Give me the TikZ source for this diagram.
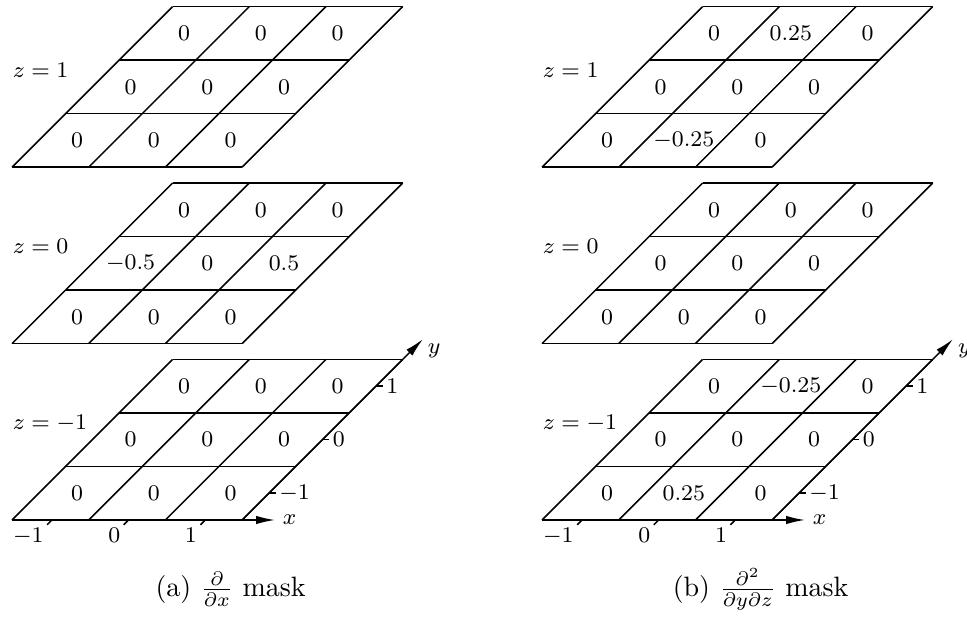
\documentclass[tikz,border=0pt]{standalone}
\usepackage{tikz}
\usetikzlibrary{arrows.meta}
\usepackage{amsmath,amssymb}

% one 3x3 layer: #1 name, #2 height, #3 z value, #4 values (bottom row first)
\newcommand{\masklayer}[4]{%
  \foreach \rr in {0,...,3} \draw (0,\rr,#2) -- (3,\rr,#2);
  \foreach \cc in {0,...,3} \draw (\cc,0,#2) -- (\cc,3,#2);
  \foreach \v [count=\n from 0] in {#4} {
    \pgfmathtruncatemacro{\ci}{mod(\n,3)}
    \pgfmathtruncatemacro{\cj}{floor(\n/3)}
    \node[cell] (#1-\ci\cj) at (\ci+0.5,\cj+0.5,#2) {$\v$};
  }
  \node[zlab] (#1-lab) at (0,0,#2+1.265) {$z=#3$};
}

% x and y axes under the lowest layer
\newcommand{\maskaxes}[1]{%
  \coordinate (#1-o)  at (0,0,0);
  \coordinate (#1-xe) at (3.43,0,0);
  \coordinate (#1-yb) at (3,0,0);
  \coordinate (#1-ye) at (3,3.38,0);
  \draw[axis] (#1-o) -- (#1-xe) node[axlab, anchor=west, inner sep=2.5pt] (#1-x) {$x$};
  \draw[axis] (#1-yb) -- (#1-ye) node[axlab, anchor=north west] (#1-y) {$y$};
  \foreach \t [count=\n from 0] in {-1,0,1} {
    \draw (\n+0.52,0,0) -- (\n+0.52,-0.09,0) node[ticklab, anchor=north east] (#1-xt\n) {$\t$};
    \draw (3,\n+0.5,0) -- (3.09,\n+0.5,0) node[ticklab, anchor=west] (#1-yt\n) {$\t$};
  }
}

\begin{document}
\begin{tikzpicture}[x={(0.963cm,0cm)}, y={(0.672cm,0.672cm)}, z={(0cm,0.963cm)},
  line width=0.55pt,
  cell/.style={font=\footnotesize, inner sep=1pt},
  zlab/.style={font=\footnotesize, anchor=west, inner sep=0pt},
  ticklab/.style={font=\footnotesize, inner sep=1pt},
  axlab/.style={font=\footnotesize, inner sep=1.5pt},
  axis/.style={-{Latex[length=6.8pt,width=3pt]}},
  subcap/.style={font=\normalsize, anchor=base}]
  \useasboundingbox (-0.1507cm,-1.218cm) rectangle (11.991cm,6.529cm);

  % (a) first derivative in x
  \masklayer{a2}{4.6}{1}{0,0,0,0,0,0,0,0,0}
  \masklayer{a1}{2.3}{0}{0,0,0,-0.5,0,0.5,0,0,0}
  \masklayer{a0}{0}{-1}{0,0,0,0,0,0,0,0,0}
  \maskaxes{a}
  \node[subcap] (a-cap) at (2.85,0,-1.0) {(a) $\frac{\partial}{\partial x}$ mask};

  % (b) mixed derivative in y and z
  \begin{scope}[xshift=6.655cm]
    \masklayer{b2}{4.6}{1}{0,-0.25,0,0,0,0,0,0.25,0}
    \masklayer{b1}{2.3}{0}{0,0,0,0,0,0,0,0,0}
    \masklayer{b0}{0}{-1}{0,0.25,0,0,0,0,0,-0.25,0}
    \maskaxes{b}
    \node[subcap] (b-cap) at (2.85,0,-1.0) {(b) $\frac{\partial^2}{\partial y\partial z}$ mask};
  \end{scope}
\end{tikzpicture}
\end{document}
